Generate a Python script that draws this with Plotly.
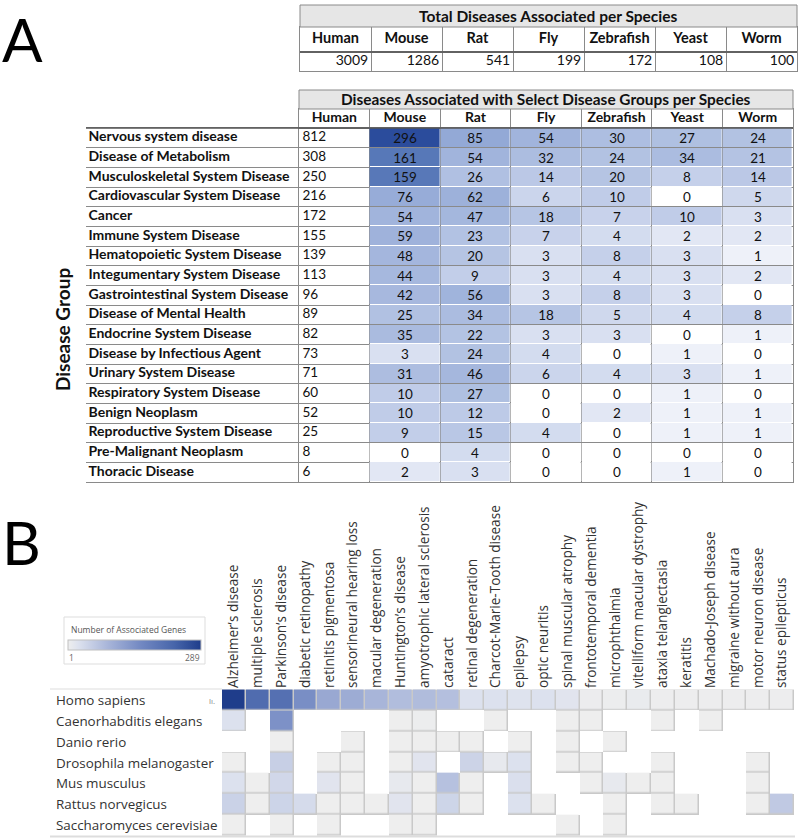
import numpy as np
import plotly.graph_objects as go

# ---------------- Panel A data ----------------
species = ["Human", "Mouse", "Rat", "Fly", "Zebrafish", "Yeast", "Worm"]
total_diseases = [3009, 1286, 541, 199, 172, 108, 100]

disease_groups = [
    "Nervous system disease", "Disease of Metabolism", "Musculoskeletal System Disease",
    "Cardiovascular System Disease", "Cancer", "Immune System Disease",
    "Hematopoietic System Disease", "Integumentary System Disease",
    "Gastrointestinal System Disease", "Disease of Mental Health",
    "Endocrine System Disease", "Disease by Infectious Agent", "Urinary System Disease",
    "Respiratory System Disease", "Benign Neoplasm", "Reproductive System Disease",
    "Pre-Malignant Neoplasm", "Thoracic Disease",
]
human = [812, 308, 250, 216, 172, 155, 139, 113, 96, 89, 82, 73, 71, 60, 52, 25, 8, 6]
mouse = [296, 161, 159, 76, 54, 59, 48, 44, 42, 25, 35, 3, 31, 10, 10, 9, 0, 2]
rat = [85, 54, 26, 62, 47, 23, 20, 9, 56, 34, 22, 24, 46, 27, 12, 15, 4, 3]
fly = [54, 32, 14, 6, 18, 7, 3, 3, 3, 18, 3, 4, 6, 0, 0, 4, 0, 0]
zebrafish = [30, 24, 20, 10, 7, 4, 8, 4, 8, 5, 3, 0, 4, 0, 2, 0, 0, 0]
yeast = [27, 34, 8, 0, 10, 2, 3, 3, 3, 4, 0, 1, 3, 1, 1, 1, 0, 1]
worm = [24, 21, 14, 5, 3, 2, 1, 2, 0, 8, 1, 0, 1, 0, 1, 1, 0, 0]

# ---------------- Panel B data ----------------
organisms = ["Homo sapiens", "Caenorhabditis elegans", "Danio rerio",
             "Drosophila melanogaster", "Mus musculus", "Rattus norvegicus",
             "Saccharomyces cerevisiae"]
diseases = [
    "Alzheimer’s disease", "multiple sclerosis", "Parkinson’s disease",
    "diabetic retinopathy", "retinitis pigmentosa", "sensorineural hearing loss",
    "macular degeneration", "Huntington’s disease", "amyotrophic lateral sclerosis",
    "cataract", "retinal degeneration", "Charcot-Marie-Tooth disease", "epilepsy",
    "optic neuritis", "spinal muscular atrophy", "frontotemporal dementia",
    "microphthalmia", "vitelliform macular dystrophy", "ataxia telangiectasia",
    "keratitis", "Machado-Joseph disease", "migraine without aura",
    "motor neuron disease", "status epilepticus",
]
N = None
genes_homo = [289, 217, 208, 150, 108, 102, 87, 76, 78, 73, 24, 24, 21, 24, 18, 4, 3, 7, 2, 2, 2, 2, 2, 2]
genes_celegans = [24, N, 145, N, N, N, N, 1, 3, N, N, 1, N, N, 1, 1, N, N, 1, N, 1, N, N, N]
genes_danio = [N, N, 1, N, N, 1, N, 1, 1, 1, 1, N, 1, N, 1, N, 1, N, N, N, N, N, N, N]
genes_dros = [1, N, 50, N, 1, 1, N, 1, 18, N, 44, 10, 24, N, 1, 1, N, N, 1, N, N, N, 1, N]
genes_mus = [24, 1, 38, N, 18, 1, N, 10, 1, 70, 1, N, 27, N, N, 1, 10, 1, 1, N, N, N, 1, N]
genes_rattus = [46, 1, 43, 32, 1, 1, 1, 18, 1, 42, 1, N, 24, 1, N, N, 1, N, 1, 1, N, N, 1, 58]
genes_sacch = [1, N, 1, N, 1, N, N, 1, 1, N, N, N, N, N, 1, N, 1, N, N, N, N, N, N, N]
gene_matrix = [genes_homo, genes_celegans, genes_danio, genes_dros,
               genes_mus, genes_rattus, genes_sacch]
gene_min, gene_max = 1, 289

# ---------------- styles ----------------
W, H = 800, 839
FA = "Lato"
FB = "Open Sans"
LINE = "#8a8a8a"
TXT = "#111111"
stop_vals = [0, 1, 3, 10, 25, 55, 85, 160, 296]
stop_cols = ["#ffffff", "#eef1f9", "#d9e0f1", "#c0cce8", "#b1c1e2",
             "#a1b4dc", "#93a9d6", "#5778b8", "#2b4c9c"]
log_max = np.log1p(max(stop_vals))
table_scale = [[float(np.log1p(v) / log_max), c] for v, c in zip(stop_vals, stop_cols)]


def dx(a, b):
    return [a / W, b / W]


def dy(top, bottom):
    return [1 - bottom / H, 1 - top / H]


def px(x):
    return x / W


def py(y):
    return 1 - y / H


def grid_axis(domain, n, anchor, reverse=False, showline=True):
    rng = [n - 0.5, -0.5] if reverse else [-0.5, n - 0.5]
    return dict(domain=domain, range=rng, anchor=anchor,
                tickvals=[i - 0.5 for i in range(n + 1)], showgrid=True,
                gridcolor=LINE, gridwidth=1, showticklabels=False, ticks="",
                zeroline=False, showline=showline, mirror=True, linecolor=LINE,
                linewidth=1, fixedrange=True)


fig = go.Figure()
idx_sp = list(range(len(species)))
idx_rows = list(range(len(disease_groups)))

# ---- Top table: header row + values row ----
fig.add_trace(go.Scatter(x=idx_sp, y=[0] * len(species), mode="text",
                         text=["<b>%s</b>" % s for s in species],
                         textfont=dict(family=FA, size=14.5, color=TXT),
                         xaxis="x2", yaxis="y2", hoverinfo="skip", cliponaxis=False))
fig.add_trace(go.Scatter(x=[i + 0.46 for i in idx_sp], y=[0] * len(species), mode="text",
                         text=[str(v) for v in total_diseases], textposition="middle left",
                         textfont=dict(family=FA, size=14, color=TXT),
                         xaxis="x3", yaxis="y3", hoverinfo="skip", cliponaxis=False))

# ---- Second table: species header ----
fig.add_trace(go.Scatter(x=idx_sp, y=[0] * len(species), mode="text",
                         text=["<b>%s</b>" % s for s in species],
                         textfont=dict(family=FA, size=14, color=TXT),
                         xaxis="x4", yaxis="y4", hoverinfo="skip", cliponaxis=False))

# ---- Second table: row labels ----
fig.add_trace(go.Scatter(x=[0.012] * len(disease_groups), y=idx_rows, mode="text",
                         text=["<b>%s</b>" % g for g in disease_groups],
                         textposition="middle right",
                         textfont=dict(family=FA, size=14, color=TXT),
                         xaxis="x5", yaxis="y5", hoverinfo="skip", cliponaxis=False))

# ---- Second table: body ----
sp_cols = [mouse, rat, fly, zebrafish, yeast, worm]
z_body = [[float(np.log1p(col[r])) for col in sp_cols] for r in idx_rows]
t_body = [[str(col[r]) for col in sp_cols] for r in idx_rows]
fig.add_trace(go.Heatmap(x=idx_sp[1:], y=idx_rows, z=z_body, text=t_body,
                         texttemplate="%{text}", zmin=0, zmax=log_max,
                         colorscale=table_scale, showscale=False, xgap=1, ygap=1,
                         textfont=dict(family=FA, size=13.5, color=TXT),
                         xaxis="x6", yaxis="y6", hoverinfo="skip"))
fig.add_trace(go.Scatter(x=[idx_sp[0] - 0.45] * len(human), y=idx_rows, mode="text",
                         text=[str(v) for v in human], textposition="middle right",
                         textfont=dict(family=FA, size=13.5, color=TXT),
                         xaxis="x6", yaxis="y6", hoverinfo="skip", cliponaxis=False))

# ---- Panel B heatmap ----
outline = [[1 if v is not None else None for v in row] for row in gene_matrix]
fig.add_trace(go.Heatmap(
    z=outline, x=diseases, y=organisms, zmin=0, zmax=1,
    colorscale=[[0, "#c9c9c9"], [1, "#c9c9c9"]], showscale=False,
    hoverinfo="skip", xaxis="x", yaxis="y",
))
fig.add_trace(go.Heatmap(
    z=gene_matrix, x=diseases, y=organisms, zmin=gene_min, zmax=gene_max,
    xgap=1.5, ygap=1.5, xaxis="x", yaxis="y",
    colorscale=[[0, "#eeeeee"], [0.08, "#dce1ee"], [0.3, "#a8b5d9"],
                [0.55, "#7288c2"], [0.8, "#4765aa"], [1, "#1f3d8b"]],
    colorbar=dict(orientation="h", x=px(134.5), xanchor="center",
                  y=py(640), yanchor="top", len=133, lenmode="pixels",
                  thickness=10, xpad=0, ypad=0, outlinewidth=1,
                  outlinecolor="#c0c0c0", showticklabels=False, ticks=""),
))

layout_axes = dict(
    xaxis=dict(domain=dx(222, 794), anchor="y", side="top", tickangle=-90,
               tickfont=dict(family=FB, size=13.6, color="#333"),
               showgrid=False, zeroline=False, ticks="", showline=False, fixedrange=True),
    yaxis=dict(domain=dy(689, 836), anchor="x", autorange="reversed",
               showticklabels=False, showgrid=False, zeroline=False, ticks="",
               fixedrange=True),
    xaxis2=grid_axis(dx(300, 797), len(species), "y2"),
    yaxis2=grid_axis(dy(27, 52), 1, "x2", reverse=True),
    xaxis3=grid_axis(dx(300, 797), len(species), "y3"),
    yaxis3=grid_axis(dy(52, 70.5), 1, "x3", reverse=True),
    xaxis4=grid_axis(dx(299, 793), len(species), "y4"),
    yaxis4=grid_axis(dy(109, 128), 1, "x4", reverse=True),
    xaxis5=dict(domain=dx(86, 299), range=[0, 1], anchor="y5", showgrid=False,
                showticklabels=False, ticks="", zeroline=False, showline=True,
                mirror=True, linecolor=LINE, fixedrange=True),
    yaxis5=grid_axis(dy(128, 482), len(disease_groups), "x5", reverse=True,
                     showline=False),
    xaxis6=grid_axis(dx(299, 793), len(species), "y6"),
    yaxis6=grid_axis(dy(128, 482), len(disease_groups), "x6", reverse=True),
)

ann = []
for o in organisms:
    ann.append(dict(x=px(54), y=o, xref="paper", yref="y", text=o, showarrow=False,
                    xanchor="left", yanchor="middle",
                    font=dict(family=FB, size=13.4, color="#333")))
ann.append(dict(x=px(212), y=organisms[0], xref="paper", yref="y", text="lı.",
                showarrow=False, xanchor="center", yanchor="middle",
                font=dict(family=FB, size=8, color="#888")))
# legend text
ann.append(dict(x=px(69), y=py(629), xref="paper", yref="paper",
                text="Number of Associated Genes", showarrow=False, xanchor="left",
                yanchor="middle", font=dict(family=FB, size=8.5, color="#555")))
ann.append(dict(x=px(67), y=py(657), xref="paper", yref="paper", text=str(gene_min),
                showarrow=False, xanchor="left", yanchor="middle",
                font=dict(family=FB, size=8.5, color="#666")))
ann.append(dict(x=px(202), y=py(657), xref="paper", yref="paper", text=str(gene_max),
                showarrow=False, xanchor="right", yanchor="middle",
                font=dict(family=FB, size=8.5, color="#666")))
# table titles
ann.append(dict(x=(px(300) + px(797)) / 2, y=py(16), xref="paper", yref="paper",
                text="<b>Total Diseases Associated per Species</b>", showarrow=False,
                xanchor="center", yanchor="middle",
                font=dict(family=FA, size=15.5, color=TXT)))
ann.append(dict(x=(px(299) + px(793)) / 2, y=py(99.5), xref="paper", yref="paper",
                text="<b>Diseases Associated with Select Disease Groups per Species</b>",
                showarrow=False, xanchor="center", yanchor="middle",
                font=dict(family=FA, size=15.4, color=TXT)))
ann.append(dict(x=px(62), y=py(330), xref="paper", yref="paper", text="<b>Disease Group</b>",
                textangle=-90, showarrow=False, xanchor="center", yanchor="middle",
                font=dict(family=FA, size=19, color=TXT)))
# panel letters
ann.append(dict(x=px(0), y=py(39), xref="paper", yref="paper", text="A", showarrow=False,
                xanchor="left", yanchor="middle", font=dict(family=FA, size=60, color="#000")))
ann.append(dict(x=px(0), y=py(542), xref="paper", yref="paper", text="B", showarrow=False,
                xanchor="left", yanchor="middle", font=dict(family=FA, size=60, color="#000")))

shapes = [
    dict(type="rect", xref="paper", yref="paper", x0=px(300), x1=px(797),
         y0=py(27), y1=py(5), fillcolor="#e6e6e6", line=dict(color=LINE, width=1)),
    dict(type="rect", xref="paper", yref="paper", x0=px(299), x1=px(793),
         y0=py(109), y1=py(90), fillcolor="#e6e6e6", line=dict(color=LINE, width=1)),
    dict(type="rect", xref="paper", yref="paper", x0=px(64), x1=px(205),
         y0=py(664), y1=py(617), fillcolor="rgba(0,0,0,0)",
         line=dict(color="#dddddd", width=1)),
    dict(type="line", xref="paper", yref="paper", x0=px(50), x1=px(222),
         y0=py(689), y1=py(689), line=dict(color="#dddddd", width=1)),
    dict(type="line", xref="paper", yref="paper", x0=px(50), x1=px(795),
         y0=py(836.5), y1=py(836.5), line=dict(color="#dddddd", width=2)),
    # darker rules under the header rows
    dict(type="line", xref="paper", yref="paper", x0=px(300), x1=px(797),
         y0=py(52), y1=py(52), line=dict(color="#555555", width=1.5)),
    dict(type="line", xref="paper", yref="paper", x0=px(86), x1=px(793),
         y0=py(128), y1=py(128), line=dict(color="#555555", width=1.5)),
]

fig.update_layout(width=W, height=H, margin=dict(l=0, r=0, t=0, b=0),
                  paper_bgcolor="white", plot_bgcolor="white",
                  annotations=ann, shapes=shapes, showlegend=False, **layout_axes)
fig.write_html("out.html", config={"displayModeBar": False},
               post_script="document.body.style.margin='0';")
